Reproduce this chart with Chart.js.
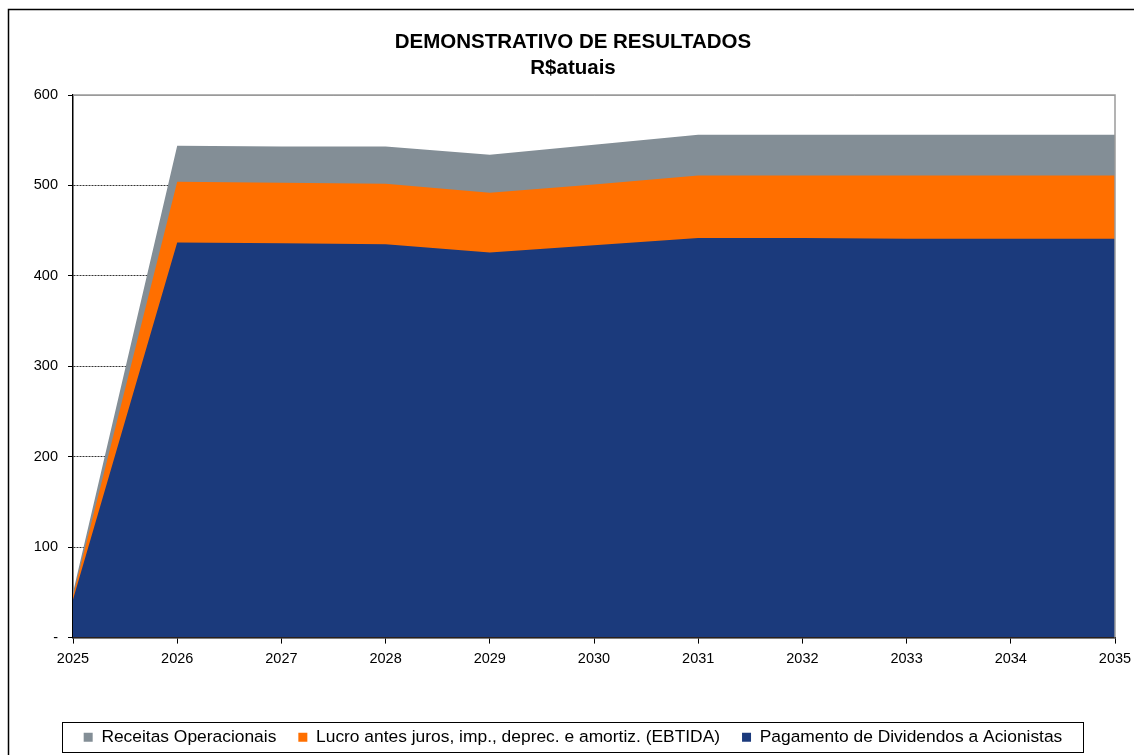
<!DOCTYPE html>
<html>
<head>
<meta charset="utf-8">
<script src="https://cdn.jsdelivr.net/npm/chart.js@4.4.1/dist/chart.umd.min.js"></script>
<style>
  html, body { margin: 0; padding: 0; background: #fff; }
  #wrap { width: 1134px; height: 755px; position: relative; }
</style>
</head>
<body>
<div id="wrap"><canvas id="c" width="1134" height="755"></canvas></div>
<script>
const categories = ['2025','2026','2027','2028','2029','2030','2031','2032','2033','2034','2035'];
const receitasOperacionais = [50, 544, 543, 543, 534, 545, 556, 556, 556, 556, 556];
const lucroEbtida = [46, 504, 503, 502, 492, 501, 511, 511, 511, 511, 511];
const pagamentoDividendos = [42, 437, 436, 435, 426, 434, 442, 442, 441, 441, 441];
const seriesNames = ['Receitas Operacionais', 'Lucro antes juros, imp., deprec. e amortiz. (EBTIDA)', 'Pagamento de Dividendos a Acionistas'];
const yTicks = [0, 100, 200, 300, 400, 500, 600];
const titleLines = ['DEMONSTRATIVO DE RESULTADOS', 'R$atuais'];

const FONT = 'Arial, "Liberation Sans", sans-serif';

const frame = {
  id: 'frame',
  beforeDraw(chart) {
    const ctx = chart.ctx;
    ctx.save();
    ctx.strokeStyle = '#000';
    ctx.lineWidth = 1.5;
    ctx.beginPath();
    ctx.moveTo(8.5, chart.height);
    ctx.lineTo(8.5, 9.5);
    ctx.lineTo(chart.width, 9.5);
    ctx.stroke();
    ctx.restore();
  },
  afterDatasetsDraw(chart) {
    const a = chart.chartArea, ctx = chart.ctx;
    ctx.save();
    ctx.strokeStyle = '#9a9a9a';
    ctx.lineWidth = 1.5;
    ctx.beginPath();
    ctx.moveTo(a.left, a.top);
    ctx.lineTo(a.right, a.top);
    ctx.lineTo(a.right, a.bottom);
    ctx.stroke();
    ctx.restore();
  },
  afterDraw(chart) {
    const lg = chart.legend;
    if (!lg || !lg.legendHitBoxes || !lg.legendHitBoxes.length) return;
    const hb = lg.legendHitBoxes;
    const first = hb[0], last = hb[hb.length - 1];
    const left = first.left - 22, right = last.left + last.width + 20;
    const cy = first.top + first.height / 2;
    const ctx = chart.ctx;
    ctx.save();
    ctx.strokeStyle = '#000';
    ctx.lineWidth = 1;
    ctx.strokeRect(Math.round(left) + 0.5, Math.round(cy - 15) + 0.5, Math.round(right - left), 30);
    ctx.restore();
  }
};

new Chart(document.getElementById('c'), {
  type: 'line',
  data: {
    labels: categories,
    datasets: [
      { label: seriesNames[0], data: receitasOperacionais, backgroundColor: '#838E96', borderColor: '#838E96', fill: 'origin', order: 3 },
      { label: seriesNames[1], data: lucroEbtida, backgroundColor: '#FF6F00', borderColor: '#FF6F00', fill: 'origin', order: 2 },
      { label: seriesNames[2], data: pagamentoDividendos, backgroundColor: '#1B3A7C', borderColor: '#1B3A7C', fill: 'origin', order: 1 }
    ]
  },
  options: {
    responsive: false,
    animation: false,
    layout: { padding: { left: 31, right: 19, top: 9, bottom: -1 } },
    elements: { point: { radius: 0 }, line: { borderWidth: 0, tension: 0 } },
    plugins: {
      tooltip: { enabled: false },
      title: {
        display: true,
        text: titleLines,
        color: '#000',
        font: { family: FONT, size: 20.5, weight: 'bold', lineHeight: 1.27 },
        padding: { top: 20, bottom: 14 }
      },
      legend: {
        position: 'bottom',
        labels: {
          color: '#000',
          font: { family: FONT, size: 17.4 },
          boxWidth: 9,
          boxHeight: 9,
          padding: 22,
          sort: (a, b) => a.datasetIndex - b.datasetIndex
        }
      }
    },
    scales: {
      x: {
        type: 'category',
        offset: false,
        grid: { drawOnChartArea: false, drawTicks: true, tickLength: 6, color: '#000', tickColor: '#000' },
        border: { color: '#000', width: 1.5 },
        ticks: { color: '#000', font: { family: FONT, size: 14.5 }, padding: 7, maxRotation: 0, autoSkip: false },
        afterFit(scale) { scale.height = 69; scale.paddingRight = 0; scale.paddingLeft = 0; }
      },
      y: {
        min: yTicks[0],
        max: yTicks[yTicks.length - 1],
        afterBuildTicks(scale) { scale.ticks = yTicks.map(v => ({ value: v })); },
        grid: {
          color: (c) => (c.tick && c.tick.value === 600) ? '#9a9a9a' : (c.tick && c.tick.value === 0 ? 'rgba(0,0,0,0)' : '#333'),
          tickColor: '#000',
          tickLength: 5,
          lineWidth: 1
        },
        border: { color: '#000', width: 1.5, dash: (c) => (c.tick && c.tick.value === 600) ? [] : [2, 1] },
        ticks: {
          color: '#000',
          font: { family: FONT, size: 14.5 },
          padding: 10,
          callback: (v) => v === 0 ? '-' : String(v)
        },
        afterFit(scale) { scale.width = 42; }
      }
    }
  },
  plugins: [frame]
});
</script>
</body>
</html>
